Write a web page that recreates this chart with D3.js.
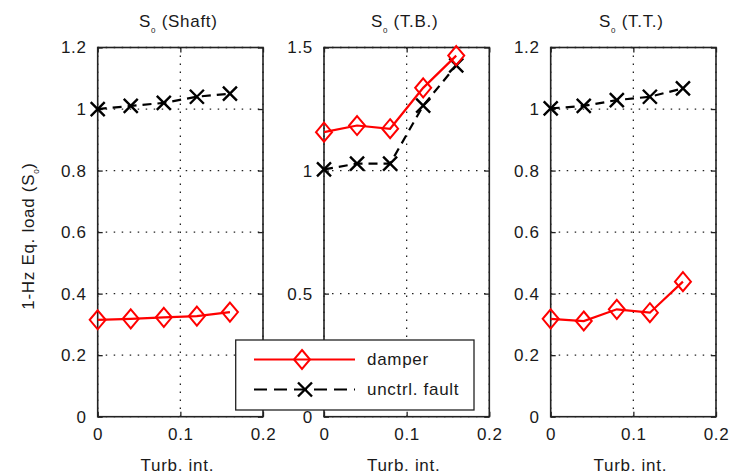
<!DOCTYPE html>
<html>
<head>
<meta charset="utf-8">
<script src="https://cdn.jsdelivr.net/npm/d3@7"></script>
<style>
  html, body { margin: 0; padding: 0; background: #fff; }
  svg { display: block; }
  text { font-family: "Liberation Sans", Arial, Helvetica, sans-serif; fill: #1a1a1a; letter-spacing: 0.7px; }
</style>
</head>
<body>
<svg id="chart" width="739" height="476"></svg>
<script>
// ---------- data ----------
const turbInt = [0, 0.04, 0.08, 0.12, 0.16];
const panelNames = ["(Shaft)", "(T.B.)", "(T.T.)"];
const damperShaft = [0.315, 0.318, 0.323, 0.327, 0.340];
const faultShaft  = [1.000, 1.010, 1.020, 1.040, 1.050];
const damperTB    = [1.156, 1.183, 1.170, 1.336, 1.467];
const faultTB     = [1.005, 1.028, 1.028, 1.264, 1.427];
const damperTT    = [0.318, 0.311, 0.349, 0.338, 0.439];
const faultTT     = [1.002, 1.010, 1.029, 1.040, 1.067];
const yTicksShaft = [0, 0.2, 0.4, 0.6, 0.8, 1, 1.2];
const yTicksTB    = [0, 0.5, 1, 1.5];
const yTicksTT    = [0, 0.2, 0.4, 0.6, 0.8, 1, 1.2];
const xTicks      = [0, 0.1, 0.2];
const legendLabels = ["damper", "unctrl. fault"];
const yLabelMain = "1-Hz Eq. load (S";
const xLabel = "Turb. int.";

// ---------- layout ----------
const svg = d3.select("#chart");
const plotTop = 47.5, plotBottom = 416.7;
const panelLeft = [97.7, 324, 550.7];
const panelWidth = 165.3;
const fontSize = 17;

const panels = [
  { name: panelNames[0], damper: damperShaft, fault: faultShaft, yTicks: yTicksShaft },
  { name: panelNames[1], damper: damperTB, fault: faultTB, yTicks: yTicksTB },
  { name: panelNames[2], damper: damperTT, fault: faultTT, yTicks: yTicksTT }
];

const red = "#ff0000";

function diamond(g, cx, cy) {
  g.append("path")
    .attr("d", `M${cx},${cy - 9.5}L${cx + 8},${cy}L${cx},${cy + 9.5}L${cx - 8},${cy}Z`)
    .attr("fill", "none").attr("stroke", red).attr("stroke-width", 2);
}
function cross(g, cx, cy) {
  const s = 7;
  g.append("path")
    .attr("d", `M${cx - s},${cy - s}L${cx + s},${cy + s}M${cx - s},${cy + s}L${cx + s},${cy - s}`)
    .attr("stroke", "#000").attr("stroke-width", 2.4).attr("fill", "none");
}

panels.forEach((p, i) => {
  const x0 = panelLeft[i], x1 = x0 + panelWidth;
  const yMax = p.yTicks[p.yTicks.length - 1];
  const x = d3.scaleLinear().domain([0, 0.2]).range([x0, x1]);
  const y = d3.scaleLinear().domain([0, yMax]).range([plotBottom, plotTop]);
  const g = svg.append("g");

  // grid
  const grid = g.append("g").attr("stroke", "#222").attr("stroke-width", 1.3)
    .attr("stroke-dasharray", "1.5,6.5");
  p.yTicks.forEach(t => {
    grid.append("line").attr("x1", x0).attr("x2", x1).attr("y1", y(t)).attr("y2", y(t));
  });
  xTicks.forEach(t => {
    grid.append("line").attr("x1", x(t)).attr("x2", x(t)).attr("y1", plotTop).attr("y2", plotBottom);
  });

  // axes via d3 axes (inward ticks)
  const axL = d3.axisLeft(y).tickValues(p.yTicks).tickSizeInner(-5).tickSizeOuter(0)
    .tickPadding(11).tickFormat(d => String(d));
  const axR = d3.axisRight(y).tickValues(p.yTicks).tickSizeInner(-5).tickSizeOuter(0).tickFormat("");
  const axB = d3.axisBottom(x).tickValues(xTicks).tickSizeInner(-5).tickSizeOuter(0)
    .tickPadding(11).tickFormat(d => String(d));
  const axT = d3.axisTop(x).tickValues(xTicks).tickSizeInner(-5).tickSizeOuter(0).tickFormat("");

  [[axL, `translate(${x0},0)`], [axR, `translate(${x1},0)`],
   [axB, `translate(0,${plotBottom})`], [axT, `translate(0,${plotTop})`]].forEach(([ax, tr]) => {
    const a = g.append("g").attr("transform", tr).call(ax);
    a.select(".domain").remove();
    a.selectAll("line").attr("stroke", "#222").attr("stroke-width", 1.3);
    a.selectAll("text").attr("font-size", fontSize).attr("fill", "#1a1a1a")
      .attr("font-family", "Liberation Sans, Arial, sans-serif");
  });

  // box
  g.append("rect").attr("x", x0).attr("y", plotTop).attr("width", x1 - x0).attr("height", plotBottom - plotTop)
    .attr("fill", "none").attr("stroke", "#222").attr("stroke-width", 1.6);

  // lines
  const line = d3.line().x((d, k) => x(turbInt[k])).y(d => y(d));
  g.append("path").datum(p.fault).attr("d", line)
    .attr("fill", "none").attr("stroke", "#000").attr("stroke-width", 2.2)
    .attr("stroke-dasharray", "9,6");
  p.fault.forEach((v, k) => cross(g, x(turbInt[k]), y(v)));

  g.append("path").datum(p.damper).attr("d", line)
    .attr("fill", "none").attr("stroke", red).attr("stroke-width", 2.2);
  p.damper.forEach((v, k) => diamond(g, x(turbInt[k]), y(v)));

  // title
  const cx = (x0 + x1) / 2;
  const t = g.append("text").attr("x", cx - 2).attr("y", 27).attr("text-anchor", "middle")
    .attr("font-size", fontSize);
  t.append("tspan").text("S");
  t.append("tspan").attr("font-size", 8).attr("dy", 6).text("0");
  t.append("tspan").attr("dy", -6).text(" " + p.name);

  // x label
  g.append("text").attr("x", cx - 3).attr("y", 471).attr("text-anchor", "middle")
    .attr("font-size", fontSize).text(xLabel);
});

// y label
const yl = svg.append("text").attr("transform", "translate(34,236) rotate(-90)")
  .attr("text-anchor", "middle").attr("font-size", fontSize);
yl.append("tspan").text(yLabelMain);
yl.append("tspan").attr("font-size", 8).attr("dy", 5).text("0");
yl.append("tspan").attr("dy", -5).text(")");

// legend
const lg = svg.append("g");
lg.append("rect").attr("x", 235.7).attr("y", 340).attr("width", 238.3).attr("height", 70)
  .attr("fill", "#fff").attr("stroke", "#222").attr("stroke-width", 1.3);
const ly = [359.5, 389.5];
lg.append("line").attr("x1", 254).attr("x2", 355).attr("y1", ly[0]).attr("y2", ly[0])
  .attr("stroke", red).attr("stroke-width", 2.2);
diamond(lg, 302, ly[0]);
lg.append("line").attr("x1", 254).attr("x2", 355).attr("y1", ly[1]).attr("y2", ly[1])
  .attr("stroke", "#000").attr("stroke-width", 2.2).attr("stroke-dasharray", "13,7");
cross(lg, 305, ly[1]);
legendLabels.forEach((l, i) => {
  lg.append("text").attr("x", 367).attr("y", ly[i]).attr("dy", "0.35em")
    .attr("font-size", fontSize).text(l);
});
</script>
</body>
</html>
